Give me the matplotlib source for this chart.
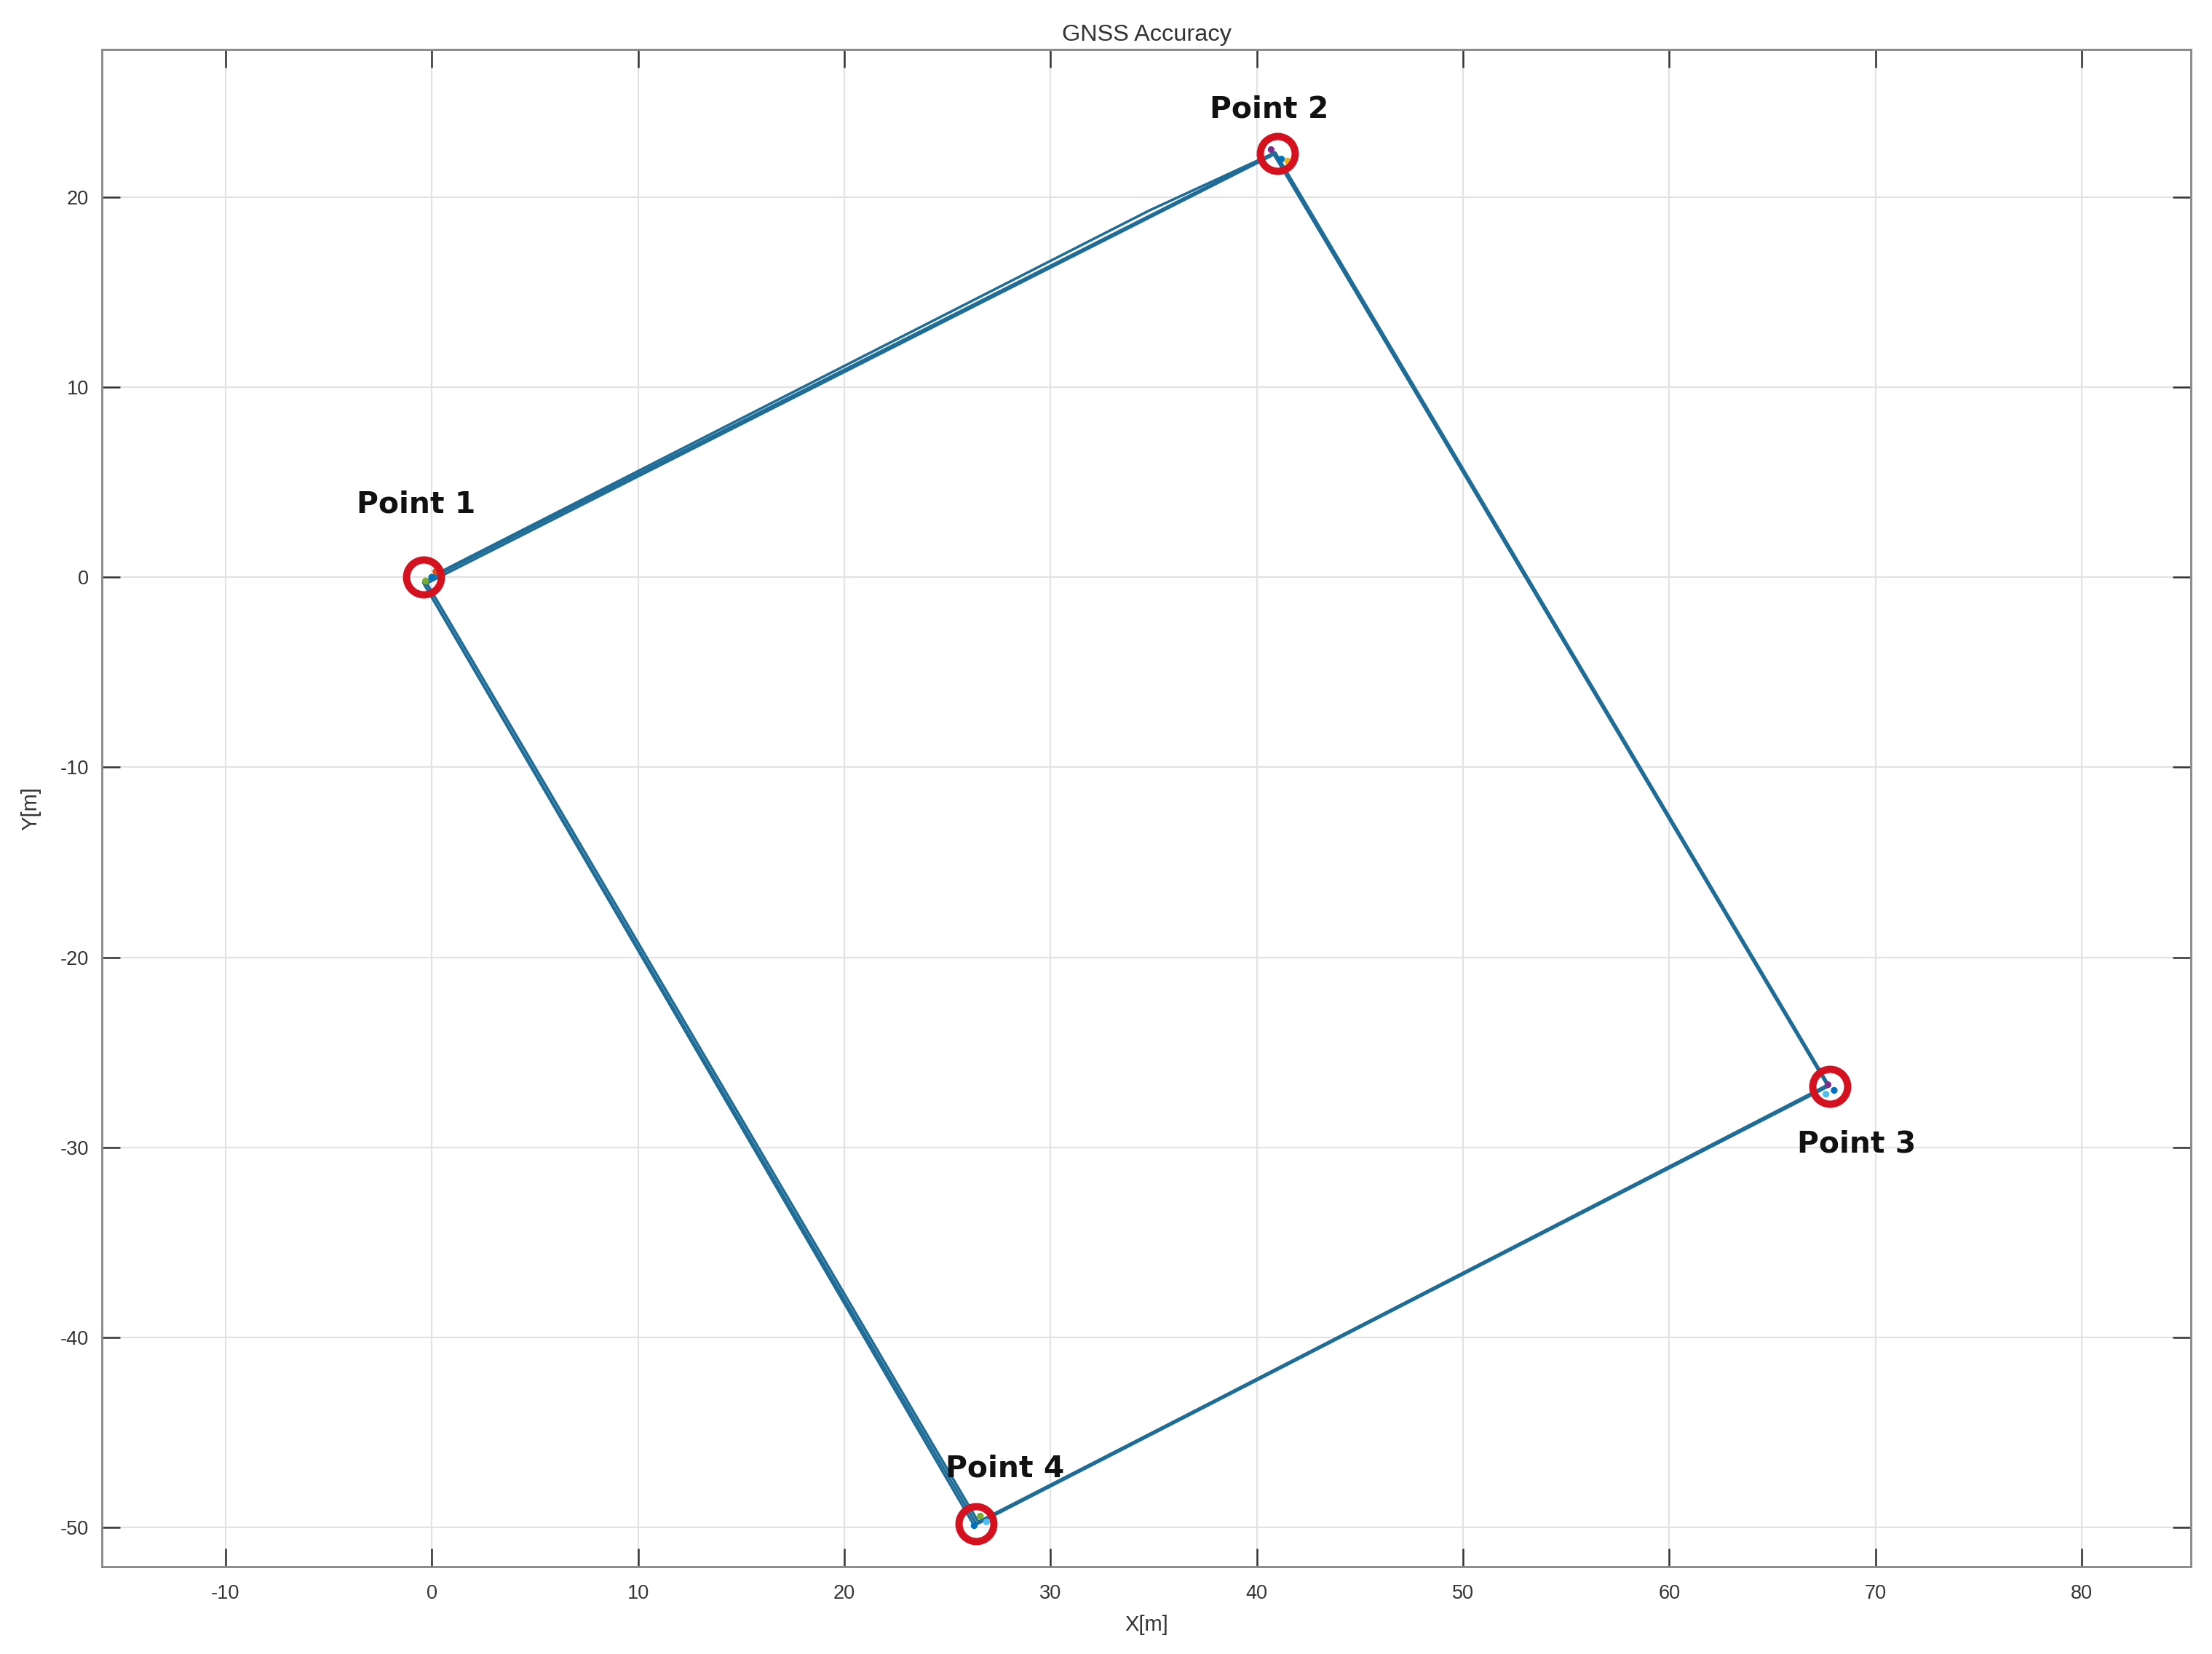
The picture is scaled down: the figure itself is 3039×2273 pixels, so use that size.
import matplotlib
matplotlib.use("Agg")
import matplotlib.pyplot as plt

# ---- data ----
# three laps around the four surveyed points (closed loops)
lap1_x = [-0.3, 40.8, 67.7, 26.4, -0.4]
lap1_y = [-0.2, 22.3, -26.7, -49.8, -0.3]
lap2_x = [0.0, 34.8, 40.9, 67.75, 26.5, -0.3]
lap2_y = [0.05, 19.3, 22.35, -26.75, -49.7, -0.2]
lap3_x = [-0.2, 40.85, 67.7, 26.3, -0.35]
lap3_y = [-0.3, 22.25, -26.8, -49.9, -0.4]

# static GNSS fixes inside each circle
fix_x = [0.2, -0.3, 0.0, 41.2, 40.7, 41.5, 67.7, 68.0, 67.6, 26.6, 26.3, 26.9]
fix_y = [0.3, -0.2, 0.0, 22.0, 22.5, 21.9, -26.7, -27.0, -27.2, -49.4, -49.9, -49.7]
fix_c = ["#D95319", "#77AC30", "#0072BD", "#0072BD", "#7E2F8E", "#EDB120",
         "#7E2F8E", "#0072BD", "#4DBEEE", "#77AC30", "#0072BD", "#4DBEEE"]

# reference points (red circles)
pt_x = [-0.4, 41.0, 67.8, 26.4]
pt_y = [0.0, 22.3, -26.8, -49.8]
pt_labels = ["Point 1", "Point 2", "Point 3", "Point 4"]
lab_x = [-0.75, 40.6, 69.1, 27.8]
lab_y = [3.8, 24.6, -29.85, -46.9]

x_ticks = list(range(-10, 81, 10))
y_ticks = list(range(-50, 21, 10))

# ---- figure ----
fig = plt.figure(figsize=(3039 / 300, 2273 / 300), dpi=300)
ax = fig.add_axes([0.046, 0.0528, 0.9445, 0.9172])

line_c = "#1f6d96"
for lx, ly in [(lap1_x, lap1_y), (lap2_x, lap2_y), (lap3_x, lap3_y)]:
    ax.plot(lx, ly, color=line_c, lw=0.85, zorder=3)

ax.scatter(fix_x, fix_y, s=5, c=fix_c, zorder=4, linewidths=0)

ax.plot(pt_x, pt_y, linestyle="none", marker="o", markersize=11.5,
        markerfacecolor="none", markeredgecolor="#d3111f", markeredgewidth=2.4,
        zorder=5)

for x, y, t in zip(lab_x, lab_y, pt_labels):
    ax.text(x, y, t, ha="center", va="center", fontsize=9.8,
            fontweight="bold", family="DejaVu Sans", color="#111111", zorder=6)

ax.set_xlim(-16.0, 85.3)
ax.set_ylim(-52.06, 27.76)
ax.set_xticks(x_ticks)
ax.set_yticks(y_ticks)

tick_font = {"family": "Liberation Sans", "size": 6.5, "color": "#333333"}
ax.set_xticklabels([str(v) for v in x_ticks], **tick_font)
ax.set_yticklabels([str(v) for v in y_ticks], **tick_font)
ax.tick_params(axis="both", direction="in", length=6.0, width=0.6,
               color="#333333", top=True, right=True)
ax.tick_params(axis="x", pad=5.8)
ax.tick_params(axis="y", pad=4.3)

ax.grid(True, color="#e2e2e2", lw=0.5)
ax.set_axisbelow(True)
for s in ax.spines.values():
    s.set_color("#8a8a8a")
    s.set_linewidth(0.7)

ax.set_title("GNSS Accuracy", fontsize=7.8, family="Liberation Sans",
             color="#333333", y=1.0, pad=3)
ax.set_xlabel("X[m]", fontsize=7, family="Liberation Sans", color="#333333")
ax.set_ylabel("Y[m]", fontsize=7, family="Liberation Sans", color="#333333")
ax.xaxis.set_label_coords(0.5, -0.0384)
ax.xaxis.label.set_va("center")
ax.yaxis.set_label_coords(-0.0338, 0.5)
ax.yaxis.label.set_va("center")

fig.savefig("out.png", dpi=300, facecolor="white")
